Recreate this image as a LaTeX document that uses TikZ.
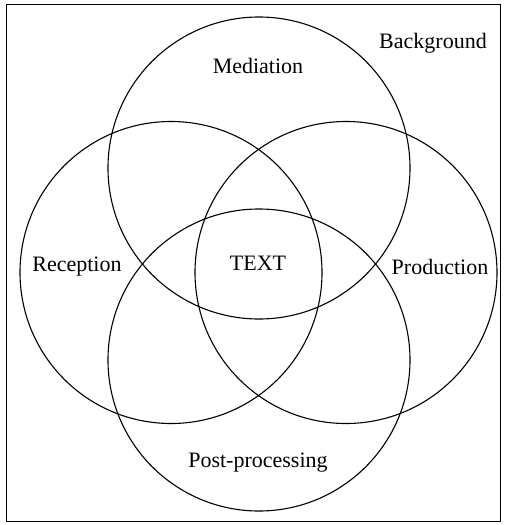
\documentclass[tikz,border=0pt]{standalone}
\usepackage{fontspec}
\setmainfont{Liberation Serif}
\usepackage{tikz}

\tikzset{
  ring/.style={circle, draw, line width=1.1pt, minimum size=302pt, inner sep=0pt},
  lbl/.style={font=\fontsize{22}{26}\selectfont, inner sep=0pt}
}

\begin{document}
\begin{tikzpicture}[x=1pt,y=-1pt]
\useasboundingbox (0,0) rectangle (504,525);
\draw [line width=1pt] (6,4) rectangle (500,521);
% the four circles
\node [ring] (med)  at (259,168) {};
\node [ring] (rec)  at (171,272.5) {};
\node [ring] (prod) at (346,272.5) {};
\node [ring] (post) at (259,360) {};
% labels
\node [lbl] (bg)     at (433,43)  {Background};
\node [lbl] (medl)   at (258,66)  {Mediation};
\node [lbl] (recl)   at (77,267)  {Reception};
\node [lbl] (txt)    at (258,263) {TEXT};
\node [lbl] (prodl)  at (440,267) {Production};
\node [lbl] (postl)  at (258,463) {Post-processing};
\end{tikzpicture}
\end{document}
